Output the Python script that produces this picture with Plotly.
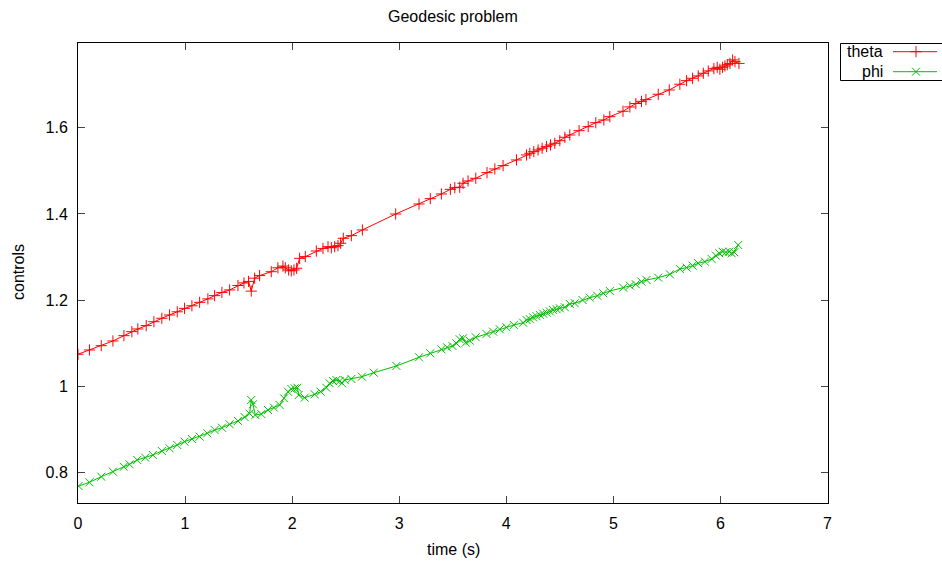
import plotly.graph_objects as go

# ---- data ----
theta_t = [0.000, 0.107, 0.217, 0.326, 0.429, 0.503, 0.559, 0.637, 0.709, 0.783,
           0.855, 0.927, 0.995, 1.064, 1.136, 1.213, 1.276, 1.344, 1.416, 1.494,
           1.550, 1.593, 1.618, 1.650, 1.696, 1.805, 1.867, 1.914, 1.936, 1.967,
           1.992, 2.017, 2.042, 2.070, 2.123, 2.226, 2.288, 2.335, 2.366, 2.397,
           2.428, 2.453, 2.478, 2.553, 2.656, 2.967, 3.185, 3.290, 3.394, 3.478,
           3.519, 3.565, 3.596, 3.643, 3.715, 3.820, 3.893, 3.970, 4.095, 4.189,
           4.220, 4.257, 4.297, 4.335, 4.376, 4.413, 4.453, 4.500, 4.547, 4.593,
           4.680, 4.765, 4.836, 4.911, 4.967, 5.090, 5.154, 5.210, 5.263, 5.304,
           5.419, 5.522, 5.621, 5.684, 5.740, 5.793, 5.840, 5.886, 5.939, 5.970,
           5.995, 6.020, 6.042, 6.064, 6.089, 6.114, 6.136, 6.173]
theta_v = [1.0746, 1.0845, 1.0945, 1.1054, 1.1177, 1.1270, 1.1332, 1.1410, 1.1500, 1.1580,
           1.1657, 1.1730, 1.1810, 1.1870, 1.1950, 1.2030, 1.2105, 1.2180, 1.2237, 1.2340,
           1.2400, 1.2435, 1.2210, 1.2510, 1.2570, 1.2660, 1.2750, 1.2790, 1.2750, 1.2700,
           1.2680, 1.2700, 1.2740, 1.2970, 1.3010, 1.3140, 1.3200, 1.3240, 1.3217, 1.3240,
           1.3264, 1.3320, 1.3435, 1.3497, 1.3628, 1.3998, 1.4230, 1.4354, 1.4463, 1.4570,
           1.4609, 1.4618, 1.4710, 1.4764, 1.4826, 1.4957, 1.5043, 1.5120, 1.5251, 1.5367,
           1.5406, 1.5444, 1.5483, 1.5522, 1.5560, 1.5599, 1.5638, 1.5698, 1.5777, 1.5830,
           1.5930, 1.6023, 1.6116, 1.6178, 1.6255, 1.6380, 1.6480, 1.6560, 1.6610, 1.6650,
           1.6774, 1.6874, 1.7006, 1.7090, 1.7145, 1.7199, 1.7261, 1.7315, 1.7368, 1.7400,
           1.7354, 1.7400, 1.7430, 1.7460, 1.7490, 1.7570, 1.7530, 1.7490]

phi_t = [0.005, 0.107, 0.217, 0.326, 0.428, 0.481, 0.553, 0.628, 0.699, 0.783,
         0.855, 0.927, 0.995, 1.064, 1.136, 1.207, 1.276, 1.344, 1.416, 1.494,
         1.556, 1.603, 1.618, 1.634, 1.656, 1.712, 1.774, 1.830, 1.883, 1.924,
         1.961, 1.993, 2.023, 2.049, 2.061, 2.117, 2.210, 2.266, 2.319, 2.350,
         2.382, 2.413, 2.444, 2.466, 2.490, 2.553, 2.652, 2.762, 2.974, 3.185,
         3.290, 3.394, 3.447, 3.497, 3.534, 3.565, 3.596, 3.621, 3.659, 3.715,
         3.815, 3.877, 3.939, 4.002, 4.070, 4.157, 4.189, 4.220, 4.250, 4.282,
         4.313, 4.345, 4.376, 4.407, 4.437, 4.470, 4.500, 4.547, 4.593, 4.640,
         4.712, 4.780, 4.849, 4.905, 4.967, 5.092, 5.154, 5.210, 5.263, 5.310,
         5.419, 5.528, 5.621, 5.684, 5.740, 5.793, 5.855, 5.918, 5.958, 5.989,
         6.020, 6.051, 6.082, 6.105, 6.130, 6.166]
phi_v = [0.7690, 0.7777, 0.7907, 0.8023, 0.8139, 0.8195, 0.8295, 0.8348, 0.8410, 0.8503,
         0.8566, 0.8642, 0.8719, 0.8781, 0.8835, 0.8913, 0.8990, 0.9043, 0.9122, 0.9200,
         0.9290, 0.9370, 0.9686, 0.9586, 0.9338, 0.9360, 0.9454, 0.9508, 0.9570, 0.9725,
         0.9878, 0.9940, 0.9955, 0.9970, 0.9800, 0.9739, 0.9818, 0.9878, 0.9970, 1.0073,
         1.0126, 1.0150, 1.0126, 1.0073, 1.0150, 1.0173, 1.0226, 1.0319, 1.0474, 1.0676,
         1.0768, 1.0861, 1.0907, 1.0938, 1.1000, 1.1093, 1.1116, 1.1015, 1.1061, 1.1140,
         1.1216, 1.1270, 1.1325, 1.1371, 1.1425, 1.1478, 1.1540, 1.1560, 1.1603, 1.1630,
         1.1657, 1.1685, 1.1710, 1.1740, 1.1773, 1.1790, 1.1812, 1.1835, 1.1912, 1.1928,
         1.2004, 1.2058, 1.2104, 1.2160, 1.2213, 1.2290, 1.2336, 1.2369, 1.2429, 1.2468,
         1.2522, 1.2600, 1.2723, 1.2754, 1.2800, 1.2856, 1.2893, 1.2955, 1.3032, 1.3087,
         1.3124, 1.3110, 1.3124, 1.3087, 1.3110, 1.3280]

x_ticks = [0, 1, 2, 3, 4, 5, 6, 7]
y_ticks = [0.8, 1.0, 1.2, 1.4, 1.6]
y_ticktext = ["0.8", "1", "1.2", "1.4", "1.6"]
series_names = ["theta", "phi"]
series_colors = ["#ff0000", "#00c000"]
series_symbols = ["cross-thin-open", "x-thin-open"]

FONT = "Liberation Sans, Arial, sans-serif"
FS = 16
MS = 8

fig = go.Figure()
for t, v, c, s in [(theta_t, theta_v, series_colors[0], series_symbols[0]),
                   (phi_t, phi_v, series_colors[1], series_symbols[1])]:
    fig.add_trace(go.Scatter(
        x=t, y=v, mode="lines+markers", showlegend=False,
        line=dict(color=c, width=1),
        marker=dict(symbol=s, size=MS, color=c, line=dict(color=c, width=1)),
        xaxis="x", yaxis="y"))

# effective rendered width (measured): paper spans 78 .. 937 px
L, T, B = 78, 43, 60
W_EFF = 937
PW = W_EFF - L
PH = 563 - T - B
def px(x):
    return (x - L) / PW
def py(y):
    return (563 - B - y) / PH

# custom gnuplot-style legend (text on the left, sample on the right)
legend_rows = [51.7, 71.7]
for name, c, s, ry in zip(series_names, series_colors, series_symbols, legend_rows):
    fig.add_trace(go.Scatter(x=[893, 937], y=[ry, ry], mode="lines", showlegend=False,
                             line=dict(color=c, width=1), xaxis="x2", yaxis="y2",
                             hoverinfo="skip", cliponaxis=False))
    fig.add_trace(go.Scatter(x=[916], y=[ry], mode="markers", showlegend=False,
                             marker=dict(symbol=s, size=MS, color=c, line=dict(color=c, width=1)),
                             xaxis="x2", yaxis="y2", hoverinfo="skip", cliponaxis=False))

axis_common = dict(showline=True, linecolor="black", linewidth=1, mirror="ticks",
                   ticks="inside", ticklen=7, tickcolor="#444", tickwidth=1,
                   showgrid=False, zeroline=False,
                   tickfont=dict(family=FONT, size=FS, color="black"))

fig.update_layout(
    width=942, height=563, autosize=False,
    margin=dict(l=L, r=0, t=T, b=B, pad=0),
    paper_bgcolor="white", plot_bgcolor="white",
    font=dict(family=FONT, size=FS, color="black"),
    xaxis=dict(domain=[0, px(827.5)], range=[0, 7], tickvals=x_ticks,
               ticklabelstandoff=6, **axis_common),
    yaxis=dict(range=[0.7297, 1.7963], tickvals=y_ticks, ticktext=y_ticktext,
               ticklabelstandoff=6, **axis_common),
    xaxis2=dict(domain=[px(840), 1], range=[840, W_EFF], visible=False, anchor="y2"),
    yaxis2=dict(domain=[py(81), 1], range=[81, 43], visible=False, anchor="x2"),
    showlegend=False,
    shapes=[dict(type="rect", xref="paper", yref="paper",
                 x0=px(840.5), x1=1.03, y0=py(80.5), y1=py(43.5),
                 line=dict(color="black", width=1), fillcolor="rgba(0,0,0,0)")],
    annotations=[
        dict(text="Geodesic problem", xref="paper", yref="paper", x=px(453), y=py(16),
             xanchor="center", yanchor="middle", showarrow=False),
        dict(text="time (s)", xref="paper", yref="paper", x=px(453), y=py(549),
             xanchor="center", yanchor="middle", showarrow=False),
        dict(text="controls", xref="paper", yref="paper", x=px(18), y=py(272),
             xanchor="center", yanchor="middle", textangle=-90, showarrow=False),
        dict(text=series_names[0], xref="paper", yref="paper", x=px(885), y=py(legend_rows[0]),
             xanchor="right", yanchor="middle", showarrow=False),
        dict(text=series_names[1], xref="paper", yref="paper", x=px(885), y=py(legend_rows[1]),
             xanchor="right", yanchor="middle", showarrow=False),
    ],
)

fig.write_html("out.html", config={"responsive": False})
